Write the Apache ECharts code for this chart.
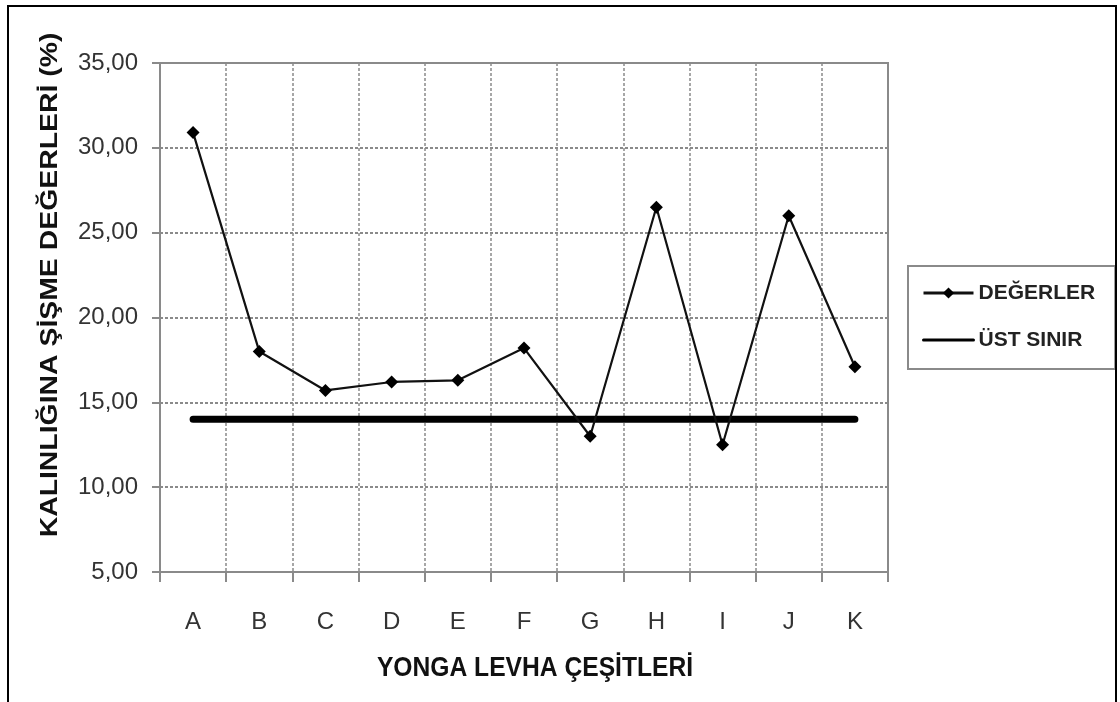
<!DOCTYPE html>
<html>
<head>
<meta charset="utf-8">
<script src="https://cdn.jsdelivr.net/npm/echarts@6/dist/echarts.min.js"></script>
<style>
  html, body { margin: 0; padding: 0; background: #fff; }
  #chart { width: 1120px; height: 702px; }
</style>
</head>
<body>
<div id="chart"></div>
<script>
// Board types and measured thickness swelling values (%)
const categories = ['A', 'B', 'C', 'D', 'E', 'F', 'G', 'H', 'I', 'J', 'K'];
const degerler = [30.9, 18.0, 15.7, 16.2, 16.3, 18.2, 13.0, 26.5, 12.5, 26.0, 17.1];
const ustSinir = [14, 14, 14, 14, 14, 14, 14, 14, 14, 14, 14];
const seriesNames = ['DEĞERLER', 'ÜST SINIR'];
const yAxisTitle = 'KALINLIĞINA ŞİŞME DEĞERLERİ (%)';
const xAxisTitle = 'YONGA LEVHA ÇEŞİTLERİ';

const FONT = "'Liberation Sans', Arial, sans-serif";
const GRIDGRAY = '#8a8a8a';

const chart = echarts.init(document.getElementById('chart'), null, { renderer: 'canvas' });

chart.setOption({
  backgroundColor: '#ffffff',
  animation: false,
  grid: {
    left: 160, right: 232, top: 63, bottom: 130,
    show: true, borderColor: GRIDGRAY, borderWidth: 2
  },
  xAxis: {
    type: 'category',
    data: categories,
    boundaryGap: true,
    axisLine: { show: true, lineStyle: { color: GRIDGRAY, width: 2 } },
    axisTick: { show: true, interval: 0, length: 10, lineStyle: { color: GRIDGRAY, width: 2 } },
    axisLabel: { interval: 0, margin: 38, color: '#333', fontFamily: FONT, fontSize: 24 },
    splitLine: { show: true, interval: 0, lineStyle: { color: GRIDGRAY, width: 1.5, type: [3, 2] } }
  },
  yAxis: {
    type: 'value',
    min: 5, max: 35, interval: 5,
    axisLine: { show: true, lineStyle: { color: GRIDGRAY, width: 2 } },
    axisTick: { show: true, length: 8, lineStyle: { color: GRIDGRAY, width: 2 } },
    axisLabel: {
      margin: 22, color: '#333', fontFamily: FONT, fontSize: 24,
      formatter: v => v.toFixed(2).replace('.', ',')
    },
    splitLine: { show: true, lineStyle: { color: GRIDGRAY, width: 2, type: [3, 2] } }
  },
  legend: {
    orient: 'vertical',
    left: 908, top: 266,
    data: [
      { name: seriesNames[0] },
      { name: seriesNames[1], itemStyle: { opacity: 0 } }
    ],
    backgroundColor: '#fff',
    borderColor: GRIDGRAY, borderWidth: 2,
    padding: [14, 20, 16, 14],
    itemWidth: 50, itemHeight: 14, itemGap: 21,
    lineStyle: { width: 3 },
    textStyle: { fontFamily: FONT, fontWeight: 'bold', fontSize: 21, color: '#222', lineHeight: 26 }
  },
  graphic: [
    {
      type: 'rect', silent: true, z: 100,
      shape: { x: 8, y: 6, width: 1108, height: 720 },
      style: { fill: 'none', stroke: '#000', lineWidth: 2 }
    },
    {
      type: 'text', silent: true,
      x: 50, y: 285, rotation: Math.PI / 2, scaleY: 0.86,
      style: {
        text: yAxisTitle, fontFamily: FONT, fontWeight: 'bold', fontSize: 28.4,
        fill: '#111', align: 'center', verticalAlign: 'middle'
      }
    },
    {
      type: 'text', silent: true,
      x: 535, y: 668, scaleX: 0.88,
      style: {
        text: xAxisTitle, fontFamily: FONT, fontWeight: 'bold', fontSize: 28,
        fill: '#111', align: 'center', verticalAlign: 'middle'
      }
    }
  ],
  series: [
    {
      name: seriesNames[0],
      type: 'line',
      data: degerler,
      symbol: 'diamond', symbolSize: 13,
      itemStyle: { color: '#000' },
      lineStyle: { color: '#111', width: 2.2 },
      z: 3
    },
    {
      name: seriesNames[1],
      type: 'line',
      data: ustSinir,
      symbol: 'none',
      itemStyle: { color: '#000' },
      lineStyle: { color: '#000', width: 7, cap: 'round' },
      z: 2
    }
  ]
});
</script>
</body>
</html>
